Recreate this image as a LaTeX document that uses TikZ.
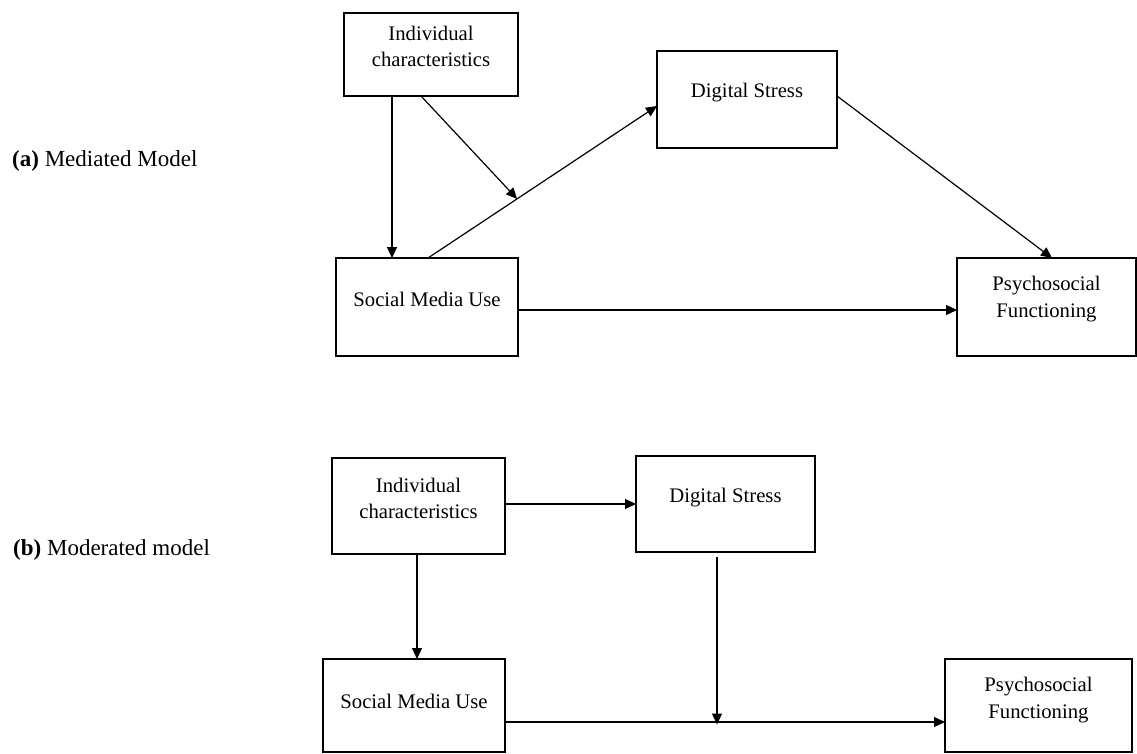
\documentclass[tikz,border=0pt]{standalone}
\usepackage{fontspec}
\setmainfont{Liberation Serif}
\usetikzlibrary{arrows.meta,calc}
\begin{document}
\begin{tikzpicture}[x=1pt,y=-1pt,
  box/.style={draw=black, line width=1.5pt, inner sep=0pt, outer sep=0pt},
  txt/.style={font=\fontsize{20.7}{26.5}\selectfont, align=center, inner sep=0pt, text=black},
  lab/.style={font=\fontsize{23}{27}\selectfont, anchor=west, inner sep=0pt, text=black},
  arr/.style={-{Triangle[length=11pt,width=10pt]}, line width=1.2pt, draw=black},
  ln/.style={line width=1.2pt, draw=black}]
\fill[white] (0,0) rectangle (1137,754);
\useasboundingbox (0,0) rectangle (1137,754);

% ---------- (a) Mediated model ----------
\node[lab] (la) at (12,161) {\textbf{(a)} Mediated Model};
\node[box, minimum width=174pt, minimum height=83pt] (ia) at (431,54.5) {};
\node[txt] (ia-t) at (431,46.5) {Individual\\characteristics};
\node[box, minimum width=180pt, minimum height=97pt] (ds) at (747,99.5) {};
\node[txt] (ds-t) at (747,93) {Digital Stress};
\node[box, minimum width=182pt, minimum height=98pt] (smu) at (427,307) {};
\node[txt] (smu-t) at (427,299) {Social Media Use};
\node[box, minimum width=179pt, minimum height=98pt] (pf) at (1046.5,307) {};
\node[txt] (pf-t) at (1046.5,299) {Psychosocial\\Functioning};

\coordinate (xa1) at (392,0);
\coordinate (xd1) at (421,0);
\coordinate (xs1) at (428,0);
\coordinate (ye1) at (0,106);
\coordinate (y96) at (0,96);
\coordinate (x1052) at (1052,0);
\coordinate (y310) at (0,310);
\coordinate (s1) at (smu.north -| xs1);
\coordinate (e1) at (ds.west |- ye1);
\coordinate (m1) at ($(s1)!0.389!(e1)$);

\draw[arr] (ia.south -| xa1) -- (smu.north -| xa1);
\draw[arr] (s1) -- (e1);
\draw[arr] (ia.south -| xd1) -- (m1);
\draw[arr] (ds.east |- y96) -- (pf.north -| x1052);
\draw[arr] (smu.east |- y310) -- (pf.west |- y310);

% ---------- (b) Moderated model ----------
\node[lab] (lb) at (13,550) {\textbf{(b)} Moderated model};
\node[box, minimum width=173pt, minimum height=96pt] (ia2) at (418.5,506) {};
\node[txt] (ia2-t) at (418.5,498.5) {Individual\\characteristics};
\node[box, minimum width=179pt, minimum height=96pt] (ds2) at (725.5,504) {};
\node[txt] (ds2-t) at (725.5,498) {Digital Stress};
\node[box, minimum width=182pt, minimum height=93pt] (smu2) at (414,705.5) {};
\node[txt] (smu2-t) at (414,701) {Social Media Use};
\node[box, minimum width=187pt, minimum height=93pt] (pf2) at (1038.5,705.5) {};
\node[txt] (pf2-t) at (1038.5,700) {Psychosocial\\Functioning};

\coordinate (y504) at (0,504);
\coordinate (x417) at (417,0);
\coordinate (x717) at (717,0);
\coordinate (y722) at (0,722);
\coordinate (d2s) at ($(ds2.south -| x717)+(0,5)$);
\coordinate (m2) at (x717 |- y722);

\draw[arr] (ia2.east |- y504) -- (ds2.west |- y504);
\draw[arr] (ia2.south -| x417) -- (smu2.north -| x417);
\draw[arr] (smu2.east |- y722) -- (pf2.west |- y722);
\draw[arr] (d2s) -- ($(m2)+(0,2.5)$);
\end{tikzpicture}
\end{document}
